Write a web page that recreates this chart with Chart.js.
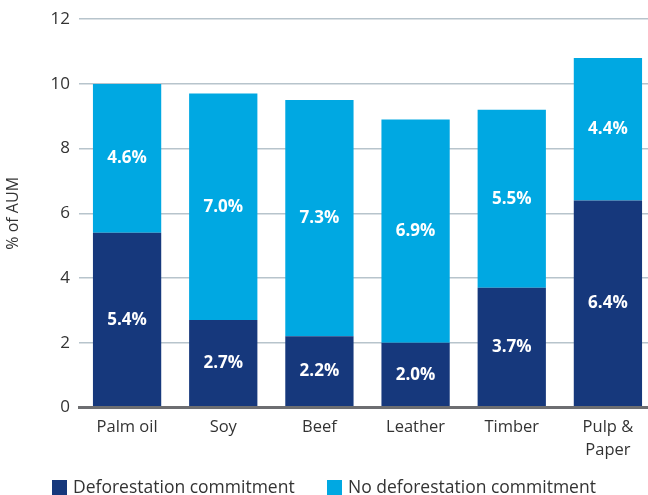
<!DOCTYPE html>
<html>
<head>
<meta charset="utf-8">
<script src="https://cdn.jsdelivr.net/npm/chart.js@4/dist/chart.umd.min.js"></script>
<style>
  html, body { margin: 0; padding: 0; background: #fff; overflow: hidden; }
  #wrap { position: relative; width: 656px; height: 495px; }
  .legend { position: absolute; top: 474px; font-family: "Open Sans", sans-serif; font-size: 17.5px; color: #333; white-space: nowrap; }
  .legend span.box { display: inline-block; width: 15px; height: 15px; vertical-align: -2px; margin-right: 6px; }
</style>
</head>
<body>
<div id="wrap">
  <canvas id="myChart" width="656" height="495"></canvas>
  <div class="legend" style="left:52px"><span class="box" style="background:#16387c"></span>Deforestation commitment</div>
  <div class="legend" style="left:327px"><span class="box" style="background:#00a8e2"></span>No deforestation commitment</div>
</div>
<script>
var categories = ['Palm oil', 'Soy', 'Beef', 'Leather', 'Timber', ['Pulp &', 'Paper']];
var commitment = [5.4, 2.7, 2.2, 2.0, 3.7, 6.4];
var noCommitment = [4.6, 7.0, 7.3, 6.9, 5.5, 4.4];
var yTicks = [0, 2, 4, 6, 8, 10, 12];

var darkBlue = '#16387c';
var lightBlue = '#00a8e2';
var fontFamily = '"Open Sans", sans-serif';

// writes the value in the middle of each stacked segment
var segmentLabels = {
	id: 'segmentLabels',
	afterDatasetsDraw: function(chart) {
		var ctx = chart.ctx;
		ctx.save();
		ctx.font = 'bold 17px ' + fontFamily;
		ctx.fillStyle = '#ffffff';
		ctx.textAlign = 'center';
		ctx.textBaseline = 'middle';
		chart.data.datasets.forEach(function(ds, i) {
			var meta = chart.getDatasetMeta(i);
			meta.data.forEach(function(bar, j) {
				var mid = (bar.y + bar.base) / 2;
				ctx.fillText(ds.data[j].toFixed(1) + '%', bar.x, mid);
			});
		});
		ctx.restore();
	}
};

var ctx = document.getElementById('myChart');
var myBarChart = new Chart(ctx, {
	type: 'bar',
	data: {
		labels: categories,
		datasets: [
			{
				label: 'Deforestation commitment',
				data: commitment,
				backgroundColor: darkBlue,
				barPercentage: 0.71,
				categoryPercentage: 1
			},
			{
				label: 'No deforestation commitment',
				data: noCommitment,
				backgroundColor: lightBlue,
				barPercentage: 0.71,
				categoryPercentage: 1
			}
		]
	},
	options: {
		responsive: false,
		animation: false,
		layout: { padding: { top: 4, right: 0, bottom: 25, left: 0 } },
		plugins: {
			legend: { display: false },
			tooltip: { enabled: false }
		},
		scales: {
			x: {
				stacked: true,
				grid: { display: false, drawTicks: false },
				border: { display: true, color: '#6d6e71', width: 3, z: 1 },
				ticks: {
					color: '#333',
					padding: 9,
					font: { family: fontFamily, size: 16.5, lineHeight: 1.35 }
				}
			},
			y: {
				stacked: true,
				min: 0,
				max: 12,
				afterFit: function(scale) { scale.width = 79; },
				afterBuildTicks: function(scale) {
					scale.ticks = yTicks.map(function(v) { return { value: v }; });
				},
				grid: { color: '#b7c4cc', lineWidth: 1.5, drawTicks: false },
				border: { display: false },
				ticks: {
					color: '#333',
					padding: 9,
					font: { family: fontFamily, size: 17 }
				},
				title: {
					display: true,
					text: '% of AUM',
					color: '#333',
					padding: { top: 4, bottom: 4 },
					font: { family: fontFamily, size: 16 }
				}
			}
		}
	},
	plugins: [segmentLabels]
});
</script>
</body>
</html>
